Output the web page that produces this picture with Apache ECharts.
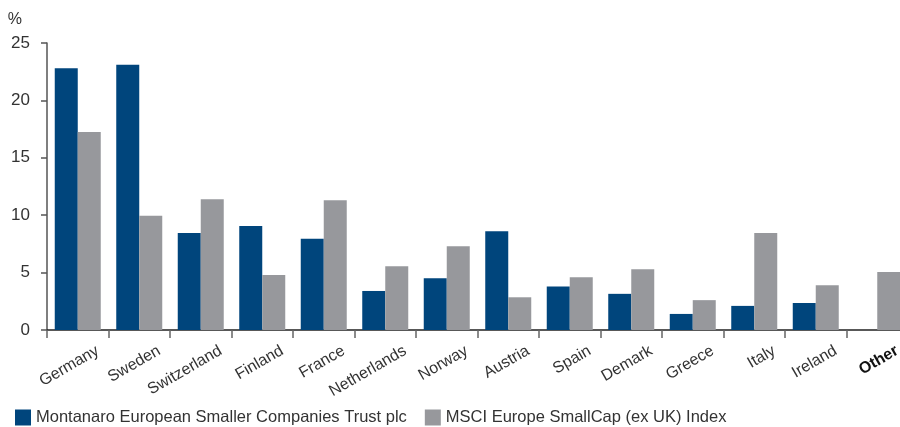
<!DOCTYPE html>
<html>
<head>
<meta charset="utf-8">
<script src="https://cdn.jsdelivr.net/npm/echarts@6/dist/echarts.min.js"></script>
<style>html,body{margin:0;padding:0;background:#fff}#c{width:900px;height:427px}</style>
</head>
<body>
<div id="c"></div>
<script>
const categories = ['Germany','Sweden','Switzerland','Finland','France','Netherlands','Norway','Austria','Spain','Demark','Greece','Italy','Ireland','Other'];
const trustValues = [22.8, 23.1, 8.45, 9.05, 7.95, 3.4, 4.5, 8.6, 3.8, 3.15, 1.4, 2.1, 2.35, 0];
const indexValues = [17.25, 9.95, 11.4, 4.8, 11.3, 5.55, 7.3, 2.85, 4.6, 5.3, 2.6, 8.45, 3.9, 5.05];
const seriesNames = ['Montanaro European Smaller Companies Trust plc', 'MSCI Europe SmallCap (ex UK) Index'];
const yTicks = {min: 0, max: 25, interval: 5};

const font = '"Liberation Sans", Arial, sans-serif';
const chart = echarts.init(document.getElementById('c'), null, {renderer: 'canvas'});
chart.setOption({
  animation: false,
  textStyle: {fontFamily: font},
  grid: {left: 47, right: -8, top: 43, bottom: 97, containLabel: false, outerBoundsMode: 'none'},
  legend: {
    left: 10, top: 404, itemWidth: 16, itemHeight: 16, itemGap: 18,
    icon: 'rect',
    textStyle: {fontSize: 16.5, color: '#333', fontFamily: font},
    data: seriesNames
  },
  xAxis: {
    type: 'category',
    data: categories,
    axisLine: {lineStyle: {color: '#222', width: 1.5}},
    axisTick: {show: true, interval: 0, length: 8, lineStyle: {color: '#666', width: 1.5}},
    axisLabel: {
      interval: 0, rotate: 30, margin: -15, fontSize: 16, color: '#333', fontFamily: font,
      hideOverlap: false,
      formatter: v => '{s| }\n{' + (v === 'Other' ? 'b' : 't') + '|' + v + '}',
      rich: {
        s: {height: 80, lineHeight: 80, fontSize: 10},
        t: {fontSize: 16, lineHeight: 18, color: '#333', fontFamily: font},
        b: {fontSize: 16, lineHeight: 18, color: '#111', fontWeight: 'bold', fontFamily: font}
      }
    }
  },
  yAxis: {
    type: 'value', min: yTicks.min, max: yTicks.max, interval: yTicks.interval,
    name: '%', nameGap: 15,
    nameTextStyle: {fontSize: 16, color: '#333', align: 'right', padding: [0, 25, 0, 0], fontFamily: font},
    axisLine: {show: true, lineStyle: {color: '#555', width: 1.5}},
    axisTick: {show: true, length: 6, lineStyle: {color: '#555', width: 1.5}},
    axisLabel: {fontSize: 17, color: '#333', margin: 17, fontFamily: font},
    splitLine: {show: false}
  },
  series: [
    {name: seriesNames[0], type: 'bar', data: trustValues, barWidth: 23, barGap: '0%', itemStyle: {color: '#00457c'}},
    {name: seriesNames[1], type: 'bar', data: indexValues, barWidth: 23, barGap: '0%', itemStyle: {color: '#97989c'}}
  ]
});
</script>
</body>
</html>
